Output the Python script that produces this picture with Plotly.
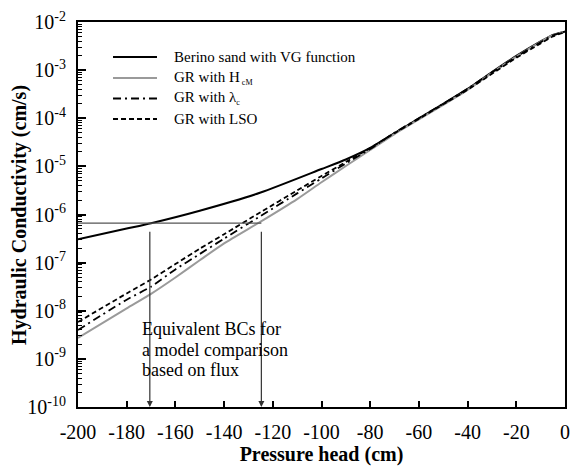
import math
import plotly.graph_objects as go

# Pressure heads (cm) and hydraulic conductivities (cm/s)
head_vg = [-200, -180, -170, -150, -125, -100, -90, -80, -70, -60, -50, -40, -30, -20, -10, -5, 0]
k_vg = [3.05e-7, 5.1e-7, 6.6e-7, 1.2e-6, 2.86e-6, 8.8e-6, 1.39e-5, 2.41e-5, 4.9e-5, 9.9e-5,
        2.0e-4, 4.06e-4, 9.1e-4, 1.97e-3, 3.94e-3, 5.4e-3, 6.3e-3]

head_gr = [-200, -180, -170, -160, -150, -140, -125, -110, -100, -90, -80,
           -70, -60, -50, -40, -30, -20, -10, -5, 0]
k_gr_hcm = [2.72e-9, 1.12e-8, 2.24e-8, 4.9e-8, 1.12e-7, 2.51e-7, 7.1e-7, 2.09e-6, 4.68e-6, 1.02e-5, 2.19e-5,
            4.7e-5, 9.5e-5, 1.9e-4, 3.9e-4, 8.8e-4, 1.9e-3, 3.85e-3, 5.3e-3, 6.3e-3]
k_gr_lambda = [3.98e-9, 1.7e-8, 3.16e-8, 7.24e-8, 1.51e-7, 3.16e-7, 9.33e-7, 2.75e-6, 5.62e-6, 1.15e-5, 2.29e-5,
               5.0e-5, 1.0e-4, 2.0e-4, 4.1e-4, 9.0e-4, 1.9e-3, 3.8e-3, 5.3e-3, 6.3e-3]
k_gr_lso = [5.83e-9, 2.29e-8, 4.47e-8, 9.33e-8, 1.95e-7, 3.89e-7, 1.12e-6, 3.16e-6, 6.31e-6, 1.23e-5, 2.4e-5,
            4.9e-5, 9.7e-5, 1.95e-4, 3.9e-4, 8.4e-4, 1.8e-3, 3.6e-3, 5.0e-3, 6.2e-3]

series_names = [
    "Berino sand with VG function",
    "GR with H<sub><span style='font-size:8px'> cM</span></sub>",
    "GR with λ<sub><span style='font-size:8px'>c</span></sub>",
    "GR with LSO",
]

# Equivalent boundary conditions (same flux)
bc_heads = [-170.5, -124.7]
bc_flux = 6.6e-7

x_ticks = list(range(-200, 1, 20))
y_exps = list(range(-10, -1))

FONT = "Liberation Serif"

line_styles = [
    dict(color="black", width=2),
    dict(color="#9a9a9a", width=2),
    dict(color="black", width=1.8, dash="8px,4px,2px,4px"),
    dict(color="black", width=1.8, dash="5px,3px"),
]

fig = go.Figure()
for xs, ys, name, st in zip([head_vg, head_gr, head_gr, head_gr],
                            [k_vg, k_gr_hcm, k_gr_lambda, k_gr_lso],
                            series_names, line_styles):
    fig.add_trace(go.Scatter(x=xs, y=ys, mode="lines", name=name, showlegend=False,
                             line=dict(shape="spline", smoothing=0.6, **st)))

# Horizontal guide at the common flux
fig.add_trace(go.Scatter(x=[-200, bc_heads[1]], y=[bc_flux, bc_flux], mode="lines",
                         showlegend=False, line=dict(color="#555555", width=1.2)))

# Vertical arrows down to the pressure-head axis
for h in bc_heads:
    fig.add_annotation(x=h, y=-10, ax=h, ay=math.log10(bc_flux), xref="x", yref="y",
                       axref="x", ayref="y", showarrow=True, arrowhead=2, arrowsize=1,
                       arrowwidth=1.2, arrowcolor="#333333", text=" ")

note_lines = ["Equivalent BCs for", "a model comparison", "based on flux"]
note_y = [-8.38, -8.815, -9.23]
for txt, yy in zip(note_lines, note_y):
    fig.add_annotation(x=-174.5, y=yy, xref="x", yref="y", text=txt, showarrow=False,
                       xanchor="left", yanchor="middle",
                       font=dict(family=FONT, size=18, color="black"))

# Legend key drawn inside the plot area (paper coordinates)
leg_x0, leg_x1, leg_tx = 0.0719, 0.1622, 0.1930
leg_rows = [0.9091, 0.8545, 0.8013, 0.7481]
for name, st, yy in zip(series_names, line_styles, leg_rows):
    fig.add_shape(type="line", xref="paper", yref="paper", x0=leg_x0, x1=leg_x1, y0=yy, y1=yy,
                  line=dict(color=st["color"], width=st["width"], dash=st.get("dash", "solid")))
    fig.add_annotation(x=leg_tx, y=yy, xref="paper", yref="paper", text=name, showarrow=False,
                       xanchor="left", yanchor="middle",
                       font=dict(family=FONT, size=15, color="black"))

# Vertical axis title
fig.add_annotation(x=-0.119, y=0.499, xref="paper", yref="paper", textangle=-90,
                   text="<b>Hydraulic Conductivity (cm/s)</b>", showarrow=False,
                   xanchor="center", yanchor="middle",
                   font=dict(family=FONT, size=20, color="black"))

fig.update_layout(
    width=572, height=467,
    margin=dict(l=78, r=7, t=22, b=60),
    paper_bgcolor="white", plot_bgcolor="white",
    font=dict(family=FONT, color="black"),
    showlegend=False,
)

fig.update_xaxes(
    range=[-200, 0], tickmode="array", tickvals=x_ticks, ticktext=[str(v) for v in x_ticks],
    ticks="inside", ticklen=6, tickwidth=1.5, tickcolor="black",
    showline=True, linecolor="black", linewidth=2, mirror=True,
    showgrid=False, zeroline=False, automargin=False,
    tickfont=dict(family=FONT, size=20, color="black"),
    ticklabelstandoff=6,
    title=dict(text="<b>Pressure head (cm)</b>", font=dict(family=FONT, size=20, color="black"),
               standoff=4),
)

minor_vals = [m * 10.0 ** e for e in range(-10, -2) for m in range(2, 10)]
fig.update_yaxes(
    type="log", range=[-10, -2], tickmode="array",
    tickvals=[10.0 ** e for e in y_exps],
    ticktext=[f"10<sup>{e}</sup>" for e in y_exps],
    ticks="inside", ticklen=8, tickwidth=1.5, tickcolor="black",
    minor=dict(tickmode="array", tickvals=minor_vals, ticks="inside", ticklen=4,
               tickwidth=1, tickcolor="black", showgrid=False),
    showline=True, linecolor="black", linewidth=2, mirror=True,
    showgrid=False, zeroline=False, automargin=False,
    tickfont=dict(family=FONT, size=20, color="black"),
    ticklabelstandoff=6,
)

fig.write_html("out.html")
